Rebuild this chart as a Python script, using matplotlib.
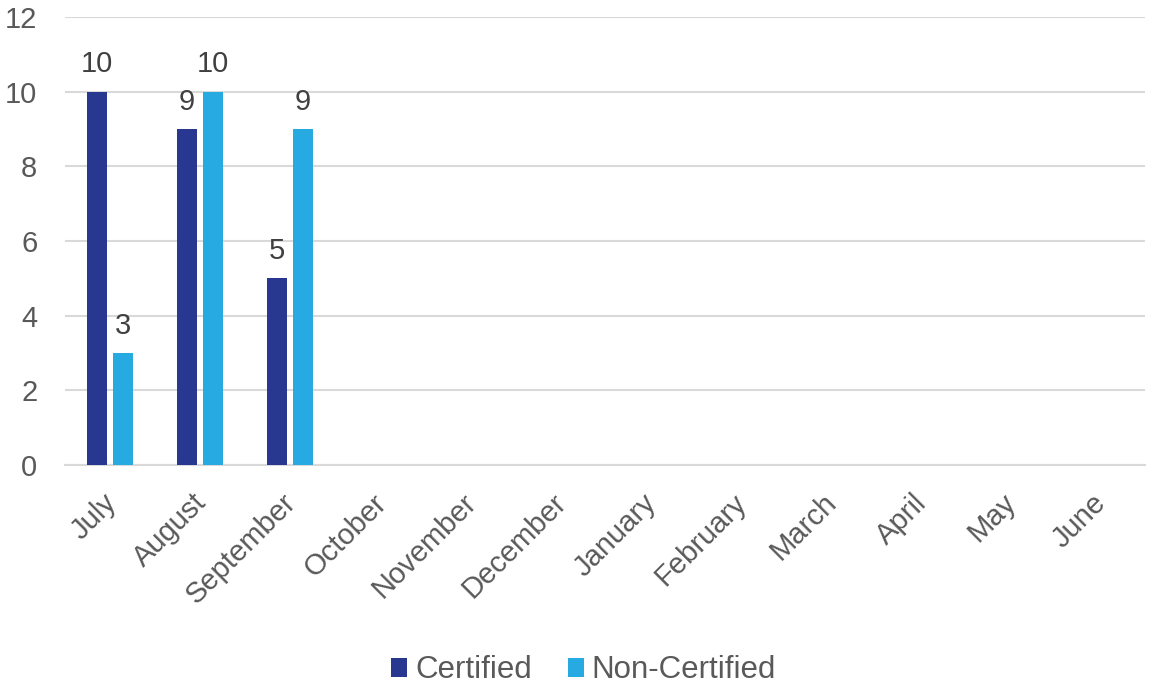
import numpy as np
import matplotlib.pyplot as plt
import matplotlib.transforms as mtrans

plt.rcParams['font.family'] = ['Liberation Sans', 'DejaVu Sans']

months = ['July', 'August', 'September', 'October', 'November', 'December',
          'January', 'February', 'March', 'April', 'May', 'June']
certified = [10, 9, 5]
non_certified = [3, 10, 9]

navy = '#283891'
light = '#27AAE1'
grey = '#595959'

fig = plt.figure(figsize=(11.53, 6.84), dpi=100)
ax = fig.add_axes([0.0564, 0.3202, 0.9367, 0.6549])

x = np.arange(len(months))
w = 0.22
b1 = ax.bar(x[:len(certified)] - 0.145, certified, w, color=navy, label='Certified', zorder=3)
b2 = ax.bar(x[:len(non_certified)] + 0.145, non_certified, w, color=light, label='Non-Certified', zorder=3)

# value labels above bars
for bars in (b1, b2):
    for r in bars:
        ax.annotate(f'{int(r.get_height())}', (r.get_x() + r.get_width() / 2, r.get_height()),
                    xytext=(0, 9.5), textcoords='offset points', ha='center', va='bottom',
                    fontsize=21, color='#404040')

ax.set_xlim(-0.5, len(months) - 0.5)
ax.set_ylim(0, 12)
ax.set_yticks(range(0, 13, 2))
ax.grid(axis='y', color='#D9D9D9', linewidth=1.5, zorder=0)
for s in ['top', 'right', 'left']:
    ax.spines[s].set_visible(False)
ax.spines['bottom'].set_color('#D9D9D9')
ax.spines['bottom'].set_linewidth(1.5)

ax.set_xticks(x)
ax.set_xticklabels(months, rotation=45, ha='right', rotation_mode='anchor')
ax.tick_params(axis='both', length=0, labelsize=21, labelcolor=grey)
ax.tick_params(axis='y', pad=20)
ax.tick_params(axis='x', pad=17)
shift = mtrans.ScaledTranslation(-8 / 100, 0, fig.dpi_scale_trans)
for lbl in ax.get_xticklabels():
    lbl.set_transform(lbl.get_transform() + shift)

ax.legend(loc='lower center', bbox_to_anchor=(0.48, -0.555), ncol=2, frameon=False,
          fontsize=22.5, labelcolor=grey, handlelength=0.52, handleheight=0.52,
          handletextpad=0.25, columnspacing=1.15)

plt.savefig('out.png', dpi=100)
